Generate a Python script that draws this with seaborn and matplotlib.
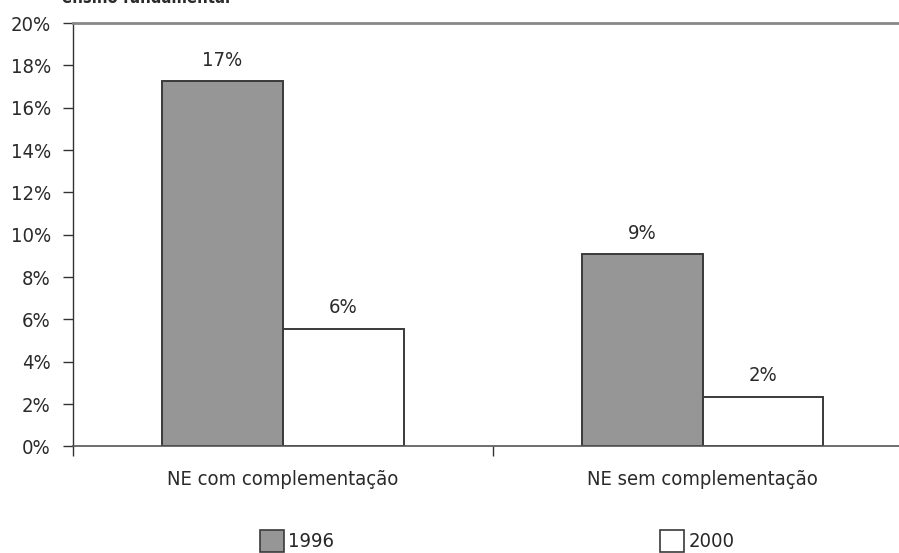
import matplotlib
matplotlib.use("Agg")
import matplotlib.pyplot as plt
import matplotlib.patches as mpatches
from matplotlib.ticker import FixedLocator
import seaborn as sns
import pandas as pd

categories = ["NE com complementação", "NE sem complementação"]
years = ["1996", "2000"]
values_1996 = [17.26, 9.1]
values_2000 = [5.57, 2.36]
ytick_labels = ["0%", "2%", "4%", "6%", "8%", "10%", "12%", "14%", "16%", "18%", "20%"]

df = pd.DataFrame({
    "cat": categories * 2,
    "year": [years[0]] * 2 + [years[1]] * 2,
    "val": values_1996 + values_2000,
})

sns.set_theme(style="white")
plt.rcParams["font.family"] = ["DejaVu Sans"]
plt.rcParams["font.stretch"] = "condensed"

FS = 14.5
TXT = "#2a2a2a"

fig = plt.figure(figsize=(8.99, 5.53), dpi=100)
ax = fig.add_axes([0.0812, 0.1926, 0.934, 0.7658])

colors = ["#969696", "#ffffff"]
sns.barplot(data=df, x="cat", y="val", hue="year", palette=colors,
            edgecolor="#3a3a3a", linewidth=1.4, width=0.575, gap=0,
            legend=False, ax=ax, saturation=1)

for cont in ax.containers:
    ax.bar_label(cont, fmt="%.0f%%", padding=8, fontsize=FS, color=TXT)

ax.set_ylim(0, 20)
ax.set_xlim(-0.5, 1.5)
ax.set_yticks(range(0, 21, 2))
ax.set_yticklabels(ytick_labels, fontsize=FS, color=TXT)
ax.set_xticks([0, 1])
ax.set_xticklabels(categories, fontsize=FS, color=TXT)
ax.xaxis.set_minor_locator(FixedLocator([-0.5, 0.5, 1.5]))
ax.tick_params(axis="x", which="major", length=0, pad=17)
ax.tick_params(axis="x", which="minor", length=7, width=1, color="#333333", direction="out", bottom=True)
ax.tick_params(axis="y", which="major", length=7, width=1, color="#333333", direction="out", left=True, pad=9)
ax.set_xlabel("")
ax.set_ylabel("")

ax.spines["left"].set_color("#333333")
ax.spines["left"].set_linewidth(1.0)
ax.spines["bottom"].set_color("#555555")
ax.spines["bottom"].set_linewidth(1.2)
ax.spines["top"].set_color("#888888")
ax.spines["top"].set_linewidth(2.0)
ax.spines["right"].set_visible(False)

handles = [mpatches.Patch(facecolor=colors[0], edgecolor="#3a3a3a", linewidth=1.2),
           mpatches.Patch(facecolor=colors[1], edgecolor="#3a3a3a", linewidth=1.2)]
fig.legend(handles, years, loc="lower center", bbox_to_anchor=(0.553, -0.012), ncol=2,
           frameon=False, fontsize=FS, handlelength=1.2, handleheight=1.3,
           handletextpad=0.2, columnspacing=16.2, borderaxespad=0)

fig.text(0.069, 1.003, "ensino fundamental", fontsize=12, fontweight="bold",
         va="center", ha="left", color=TXT)

fig.savefig("out.png", dpi=100)
